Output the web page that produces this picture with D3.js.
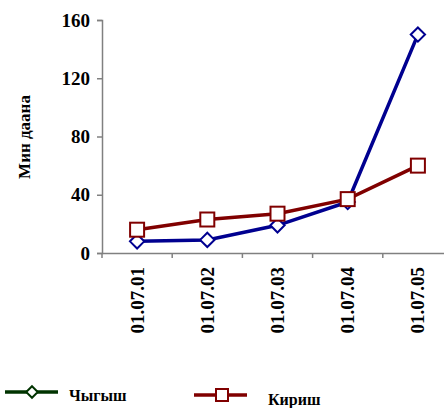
<!DOCTYPE html>
<html lang="ru">
  <head>
      <meta charset="utf-8">
      <title>Мин даана</title>
      <script type="text/javascript" src="https://cdn.jsdelivr.net/npm/d3@7"></script>
      <style>
        body { margin: 0; background: #fff; }
        text { font-family: "Liberation Serif", "Times New Roman", serif; font-weight: bold; fill: #000; }
      </style>
  </head>
  <body>
      <script type="text/javascript">

      var dates = ["01.07.01", "01.07.02", "01.07.03", "01.07.04", "01.07.05"];
      var chygysh = [8, 9, 19, 35, 150];
      var kirish = [16, 23, 27, 37, 60];
      var yTicks = [0, 40, 80, 120, 160];
      var seriesNames = ["Чыгыш", "Кириш"];

      var w = 444;
      var h = 408;
      var plotLeft = 102, plotRight = 453, plotTop = 20, plotBottom = 253;
      var serif = "'Liberation Serif', 'Times New Roman', serif";

      var svg = d3.select("body").append("svg").attr("width", w).attr("height", h);

      var x = d3.scaleBand().domain(dates).range([plotLeft, plotRight]);
      var y = d3.scaleLinear().domain([0, 160]).range([plotBottom, plotTop]);

      // y axis
      var yAxis = svg.append("g").attr("transform", "translate(" + plotLeft + ",0)")
        .call(d3.axisLeft(y).tickValues(yTicks).tickSize(5).tickPadding(7));
      yAxis.attr("font-family", serif);
      yAxis.select(".domain").attr("stroke", "#808080").attr("stroke-width", 1.5);
      yAxis.selectAll(".tick line").attr("stroke", "#808080").attr("stroke-width", 1.5);
      yAxis.selectAll(".tick text").attr("font-size", "19px").attr("font-family", serif);

      // x axis
      var xAxis = svg.append("g").attr("transform", "translate(0," + plotBottom + ")")
        .call(d3.axisBottom(x).tickSize(0).tickFormat(""));
      xAxis.select(".domain").attr("stroke", "#808080").attr("stroke-width", 1.5);
      // category boundary ticks
      svg.selectAll("line.xtick").data(dates).enter().append("line").attr("class", "xtick")
        .attr("x1", function(d){ return x(d); }).attr("x2", function(d){ return x(d); })
        .attr("y1", plotBottom).attr("y2", plotBottom + 5)
        .attr("stroke", "#808080").attr("stroke-width", 1.5);

      // rotated date labels
      svg.selectAll("text.xlab").data(dates).enter().append("text").attr("class", "xlab")
        .text(function(d){ return d; })
        .attr("transform", function(d){
          return "translate(" + (x(d) + x.bandwidth() / 2 + 6.5) + "," + (plotBottom + 14) + ") rotate(-90)";
        })
        .attr("text-anchor", "end").attr("font-size", "19px").attr("font-family", serif);

      // y title
      svg.append("text").text("Мин даана")
        .attr("transform", "translate(30,137) rotate(-90)")
        .attr("text-anchor", "middle").attr("font-size", "17px").attr("font-family", serif);

      var line = d3.line()
        .x(function(d, i){ return x(dates[i]) + x.bandwidth() / 2; })
        .y(function(d){ return y(d); });

      // Чыгыш
      svg.append("path").datum(chygysh).attr("d", line)
        .attr("fill", "none").attr("stroke", "#000090").attr("stroke-width", 3.5);
      svg.selectAll("path.dia").data(chygysh).enter().append("path").attr("class", "dia")
        .attr("d", d3.symbol().type(d3.symbolDiamond2).size(130))
        .attr("transform", function(d, i){
          return "translate(" + (x(dates[i]) + x.bandwidth() / 2) + "," + y(d) + ")";
        })
        .attr("fill", "#fff").attr("stroke", "#000090").attr("stroke-width", 2);

      // Кириш
      svg.append("path").datum(kirish).attr("d", line)
        .attr("fill", "none").attr("stroke", "#800000").attr("stroke-width", 3.5);
      svg.selectAll("rect.sq").data(kirish).enter().append("rect").attr("class", "sq")
        .attr("x", function(d, i){ return x(dates[i]) + x.bandwidth() / 2 - 7; })
        .attr("y", function(d){ return y(d) - 7; })
        .attr("width", 14).attr("height", 14)
        .attr("fill", "#fff").attr("stroke", "#800000").attr("stroke-width", 2);

      // legend
      var lg1 = svg.append("g").attr("transform", "translate(5,392)");
      lg1.append("line").attr("x1", 0).attr("x2", 53).attr("y1", 0).attr("y2", 0)
        .attr("stroke", "#003300").attr("stroke-width", 3.5);
      lg1.append("path").attr("d", d3.symbol().type(d3.symbolDiamond2).size(85))
        .attr("transform", "translate(27,0)")
        .attr("fill", "#fff").attr("stroke", "#003300").attr("stroke-width", 2);
      lg1.append("text").text(seriesNames[0]).attr("x", 64).attr("y", 9)
        .attr("font-size", "16px").attr("font-family", serif);

      var lg2 = svg.append("g").attr("transform", "translate(194,395)");
      lg2.append("line").attr("x1", 0).attr("x2", 53).attr("y1", 0).attr("y2", 0)
        .attr("stroke", "#800000").attr("stroke-width", 3.5);
      lg2.append("rect").attr("x", 22).attr("y", -6).attr("width", 12).attr("height", 12)
        .attr("fill", "#fff").attr("stroke", "#800000").attr("stroke-width", 2);
      lg2.append("text").text(seriesNames[1]).attr("x", 74).attr("y", 10)
        .attr("font-size", "16px").attr("font-family", serif);

      </script>
  </body>
</html>
